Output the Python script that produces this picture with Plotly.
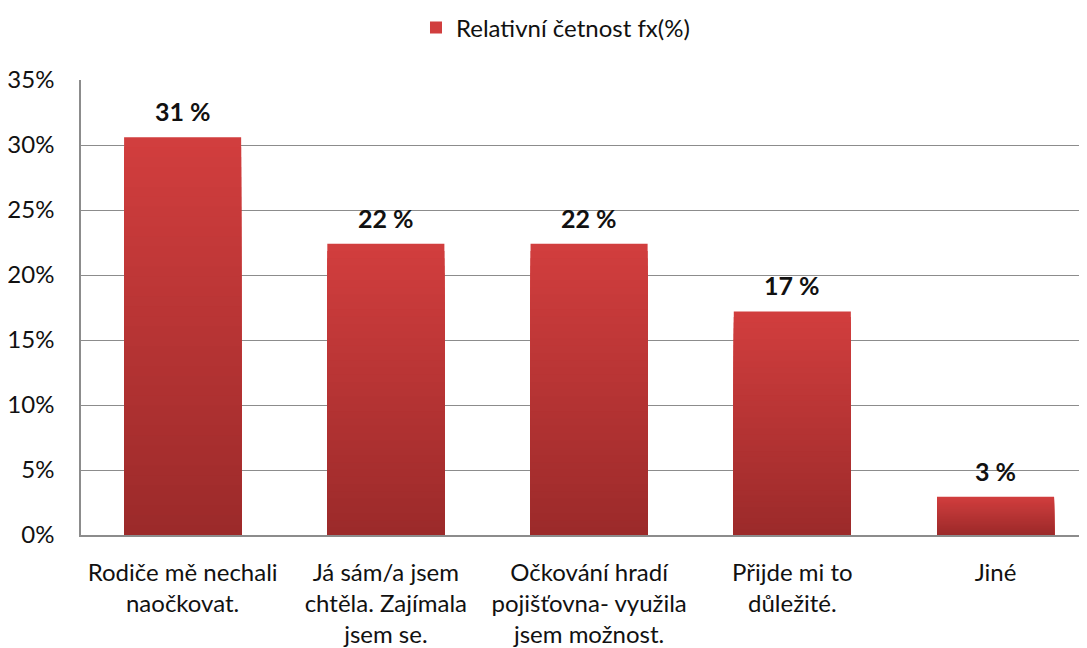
import plotly.graph_objects as go

categories = [
    "Rodiče mě nechali<br>naočkovat.",
    "Já sám/a jsem<br>chtěla. Zajímala<br>jsem se.",
    "Očkování hradí<br>pojišťovna- využila<br>jsem možnost.",
    "Přijde mi to<br>důležité.",
    "Jiné",
]
values = [30.6, 22.4, 22.4, 17.2, 2.95]
labels = ["31 %", "22 %", "22 %", "17 %", "3 %"]
series_name = "Relativní četnost fx(%)"
y_ticks = [0, 5, 10, 15, 20, 25, 30, 35]
y_ticktext = [f"{t}%" for t in y_ticks]

FONT = "Lato"
top_rgb = (209, 62, 62)
bot_rgb = (156, 42, 42)
N = 40

fig = go.Figure()
fig.add_trace(go.Bar(
    x=categories, y=values, name=series_name,
    marker=dict(color="rgb(%d,%d,%d)" % top_rgb, line=dict(width=0)),
    width=0.576, showlegend=True,
))
for k in range(1, N):
    f = 1 - k / N
    t = k / (N - 1)
    c = tuple(round(top_rgb[i] + (bot_rgb[i] - top_rgb[i]) * t) for i in range(3))
    fig.add_trace(go.Bar(
        x=categories, y=[v * f for v in values],
        marker=dict(color="rgb(%d,%d,%d)" % c, line=dict(width=0)),
        width=0.576, showlegend=False, hoverinfo="skip",
    ))

for cat, v, lab in zip(categories, values, labels):
    fig.add_annotation(
        x=cat, y=v, text=lab, showarrow=False, yanchor="bottom", yshift=9,
        font=dict(family=FONT, size=25, color="#111111", weight="bold"),
    )

# page body adds an 8px offset; margins compensate for it
fig.update_layout(
    width=1087, height=648,
    barmode="overlay",
    paper_bgcolor="white", plot_bgcolor="white",
    margin=dict(l=73, r=8, t=72, b=121, autoexpand=False),
    font=dict(family=FONT, size=24, color="#111111"),
    legend=dict(orientation="h", x=0.333, xanchor="left",
                yref="container", y=1 - 20 / 648, yanchor="middle",
                font=dict(family=FONT, size=24, color="#111111"),
                itemwidth=30),
    showlegend=True,
)
fig.update_xaxes(
    range=[-0.5, 4.45], showline=True, linecolor="#8c8c8c", linewidth=1.5,
    ticks="", tickfont=dict(family=FONT, size=24, color="#111111"),
    showgrid=False, ticklabelstandoff=15, automargin=False,
)
fig.update_yaxes(
    range=[0, 35], tickvals=y_ticks, ticktext=y_ticktext,
    showline=True, linecolor="#8c8c8c", linewidth=1.5,
    gridcolor="#8c8c8c", gridwidth=1.3, zeroline=False,
    tickfont=dict(family=FONT, size=24, color="#111111"),
    ticklabelstandoff=20, automargin=False,
)
fig.write_html("out.html")
